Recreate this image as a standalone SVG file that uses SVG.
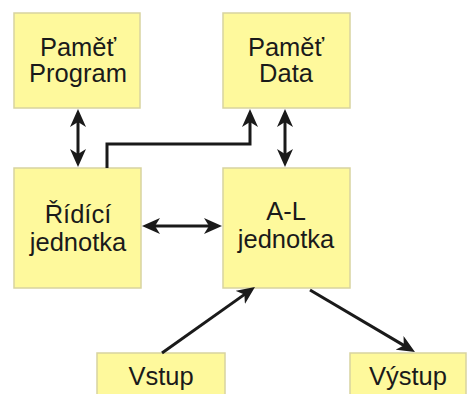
<svg xmlns="http://www.w3.org/2000/svg" width="470" height="394" viewBox="0 0 470 394">
  <style>
    .box { fill: #fef99c; stroke: #d8d3a0; stroke-width: 1.5; }
    .lbl { font-family: "Liberation Sans", Arial, sans-serif; font-size: 25.5px; fill: #1a1a1a; text-anchor: middle; }
    .con { fill: none; stroke: #1a1a1a; stroke-width: 3; }
  </style>
  <defs>
    <marker id="ah" markerUnits="userSpaceOnUse" markerWidth="18" markerHeight="16" viewBox="0 0 18 16" refX="7" refY="8" orient="auto-start-reverse">
      <path d="M0,0 L18,8 L0,16 L5,8 z" fill="#1a1a1a"/>
    </marker>
  </defs>
  <rect width="470" height="394" fill="#ffffff"/>
  <g id="pamet-program">
    <rect class="box" x="14" y="13" width="126" height="95"/>
    <text class="lbl" x="78" y="56">Paměť</text>
    <text class="lbl" x="78" y="82">Program</text>
  </g>
  <g id="pamet-data">
    <rect class="box" x="223" y="13" width="127" height="95"/>
    <text class="lbl" x="286" y="56">Paměť</text>
    <text class="lbl" x="286" y="82">Data</text>
  </g>
  <g id="ridici-jednotka">
    <rect class="box" x="14" y="168" width="127" height="120"/>
    <text class="lbl" x="78" y="223">Řídící</text>
    <text class="lbl" x="78" y="251">jednotka</text>
  </g>
  <g id="al-jednotka">
    <rect class="box" x="223" y="168" width="127" height="120"/>
    <text class="lbl" x="286" y="220">A-L</text>
    <text class="lbl" x="286" y="248">jednotka</text>
  </g>
  <g id="vstup">
    <rect class="box" x="97" y="353" width="128" height="50"/>
    <text class="lbl" x="161" y="385">Vstup</text>
  </g>
  <g id="vystup">
    <rect class="box" x="350" y="353" width="116" height="50"/>
    <text class="lbl" x="408" y="385">Výstup</text>
  </g>
  <g id="connectors">
    <line class="con" x1="78" y1="120" x2="78" y2="156" marker-start="url(#ah)" marker-end="url(#ah)"/>
    <path class="con" d="M107,168 V144 H250 V120" marker-end="url(#ah)"/>
    <line class="con" x1="285" y1="120" x2="285" y2="156" marker-start="url(#ah)" marker-end="url(#ah)"/>
    <line class="con" x1="153" y1="226" x2="211" y2="226" marker-start="url(#ah)" marker-end="url(#ah)"/>
    <line class="con" x1="162" y1="353" x2="246" y2="293.4" marker-end="url(#ah)"/>
    <line class="con" x1="310" y1="290" x2="405.5" y2="346.4" marker-end="url(#ah)"/>
  </g>
</svg>
